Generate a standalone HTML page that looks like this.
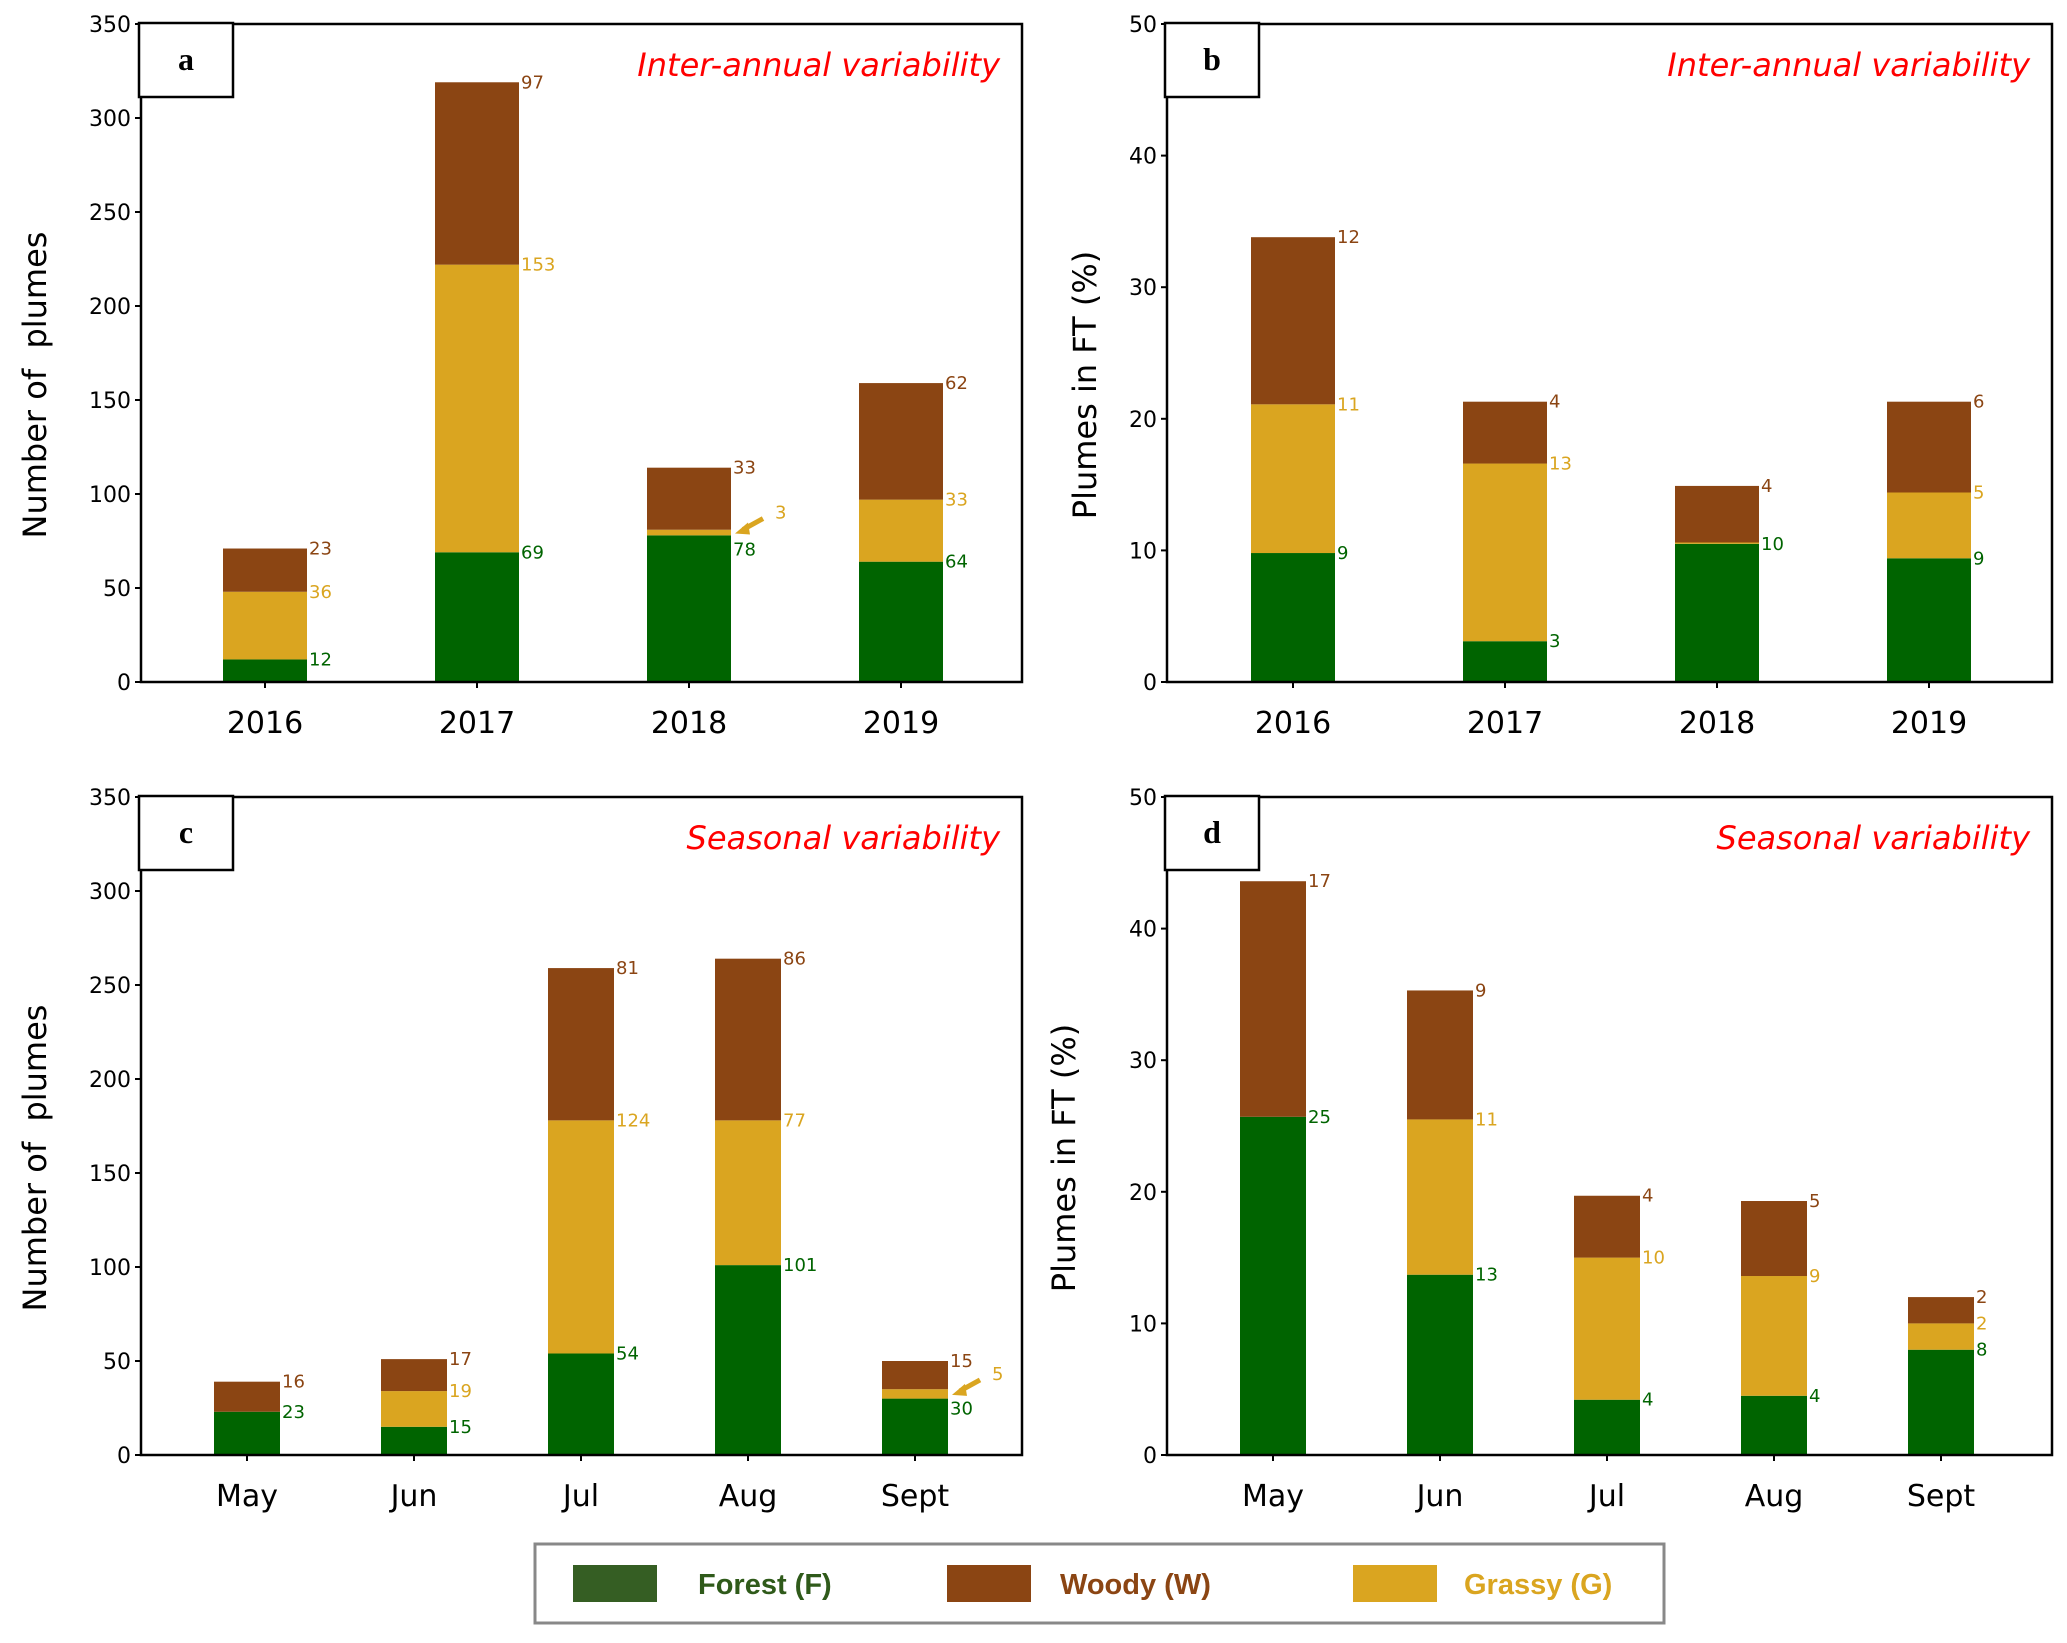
<!DOCTYPE html>
<html><head><meta charset="utf-8"><style>
body{margin:0;background:#fff;}
svg{display:block;font-family:"DejaVu Sans","Liberation Sans",sans-serif;}
</style></head><body>
<svg id="fig" width="2067" height="1643" viewBox="0 0 2067 1643" xmlns="http://www.w3.org/2000/svg"></svg>
<script>
// Panel a: number of plumes per year
const yearsA = ["2016","2017","2018","2019"];
const forestA = [12,69,78,64];
const grassyA = [36,153,3,33];
const woodyA = [23,97,33,62];
// Panel b: plumes in FT (%) per year
const yearsB = ["2016","2017","2018","2019"];
const forestB = [9.8,3.1,10.5,9.4];
const grassyB = [11.3,13.5,0.1,5.0];
const woodyB = [12.7,4.7,4.3,6.9];
// Panel c: number of plumes per month
const monthsC = ["May","Jun","Jul","Aug","Sept"];
const forestC = [23,15,54,101,30];
const grassyC = [0,19,124,77,5];
const woodyC = [16,17,81,86,15];
// Panel d: plumes in FT (%) per month
const monthsD = ["May","Jun","Jul","Aug","Sept"];
const forestD = [25.7,13.7,4.2,4.5,8.0];
const grassyD = [0,11.8,10.8,9.1,2.0];
const woodyD = [17.9,9.8,4.7,5.7,2.0];
const ticksCount = [0,50,100,150,200,250,300,350];
const ticksPct = [0,10,20,30,40,50];

const C = {F:"#006400", G:"#DAA520", W:"#8B4513"};
const svg = document.getElementById('fig');
const NS = "http://www.w3.org/2000/svg";
function mk(tag, attrs, parent){
  const e = document.createElementNS(NS, tag);
  for (const k in attrs) e.setAttribute(k, attrs[k]);
  (parent||svg).appendChild(e);
  return e;
}
function txt(str, attrs, parent){ const e = mk('text', attrs, parent); e.textContent = str; return e; }

function panel(o){
  const g = mk('g', {});
  
  
  const L=o.left,R=o.right,T=o.top,B=o.bottom;
  const y = v => B - (v - 0)/(o.max) * (B - T);
  const n = o.cats.length;
  const xc = i => o.x0 + i*o.step;
  for (let i=0;i<n;i++){
    const segs = [["forest",o.f[i],C.F],["grassy",o.g[i],C.G],["woody",o.w[i],C.W]];
    let base = 0;
    const tops = [];
    segs.forEach(s=>{
      const r = mk('rect',{x:xc(i)-o.bw/2, y:y(base+s[1]), width:o.bw, height:Math.max(0,y(base)-y(base+s[1])), fill:s[2]}, g);
      
      
      base += s[1];
      tops.push(base);
    });
    const hasArrow = o.arrow && o.arrow[i];
    segs.forEach((s,k)=>{
      if (s[1] < 1) return;
      if (hasArrow && k===1) return;
      const lab = o.pct ? Math.floor(s[1]+1e-9) : s[1];
      const lx = xc(i)+o.bw/2+2;
      let ly = y(tops[k])+6;
      if (o.nudge && o.nudge[i] && o.nudge[i][k]) ly += o.nudge[i][k];
      const t = txt(String(lab), {x:lx, y:ly, 'font-size':18, fill:s[2]}, g);
      
      
    });
    if (hasArrow){
      const gy = y(o.f[i]+o.g[i]/2);
      const ax = xc(i)+o.bw/2+4;
      const a = mk('g',{},g);
      
      
      mk('line',{x1:ax+28,y1:gy-14,x2:ax+8,y2:gy-3,stroke:C.G,'stroke-width':5},a);
      mk('polygon',{points:`${ax},${gy+1} ${ax+13},${gy-10} ${ax+15},${gy+2}`,fill:C.G},a);
      const t = txt(String(o.g[i]),{x:ax+40,y:gy-14,'font-size':18,fill:C.G},a);
      
      
    }
    mk('line',{x1:xc(i),y1:B,x2:xc(i),y2:B+6,stroke:'#000','stroke-width':2},g);
    const xl = txt(o.cats[i],{x:xc(i),y:B+51,'font-size':30,'text-anchor':'middle',fill:'#000'},g);
    
    
  }
  o.ticks.forEach(v=>{
    mk('line',{x1:L-6,y1:y(v),x2:L,y2:y(v),stroke:'#000','stroke-width':2},g);
    const t = txt(String(v),{x:L-10,y:y(v)+8,'font-size':22,'text-anchor':'end',fill:'#000'},g);
    
    
  });
  const fr = mk('rect',{x:L,y:T,width:R-L,height:B-T,fill:'none',stroke:'#000','stroke-width':2.5},g);
  
  
  const bx = mk('rect',{x:L-2,y:T-1,width:94,height:74,fill:'#fff',stroke:'#000','stroke-width':2.5},g);
  
  
  const pl = txt(o.letter,{x:L+45,y:T+46,'font-size':32,'font-weight':'bold','text-anchor':'middle','font-family':'Liberation Serif, serif',fill:'#000'},g);
  
  
  const ti = txt(o.title,{x:R-22,y:T+52,'font-size':32,'font-style':'italic','text-anchor':'end',fill:'#ff0000'},g);
  
  
  const yt = txt(o.ytitle,{x:0,y:0,'font-size':32,'text-anchor':'middle',fill:'#000',transform:`translate(${o.ytx},${(T+B)/2+32}) rotate(-90)`},g);
  
  
}

panel({name:'panel-a',letter:'a',title:'Inter-annual variability',ytitle:'Number of\u00a0\u00a0plumes',ytx:46,
  left:141,right:1022,top:24,bottom:682,max:350,ticks:ticksCount,cats:yearsA,f:forestA,g:grassyA,w:woodyA,
  x0:265,step:212,bw:84,arrow:{2:true},nudge:{2:[14,0,0]}});
panel({name:'panel-b',letter:'b',title:'Inter-annual variability',ytitle:'Plumes in FT (%)',ytx:1096,
  left:1167,right:2052,top:24,bottom:682,max:50,ticks:ticksPct,cats:yearsB,f:forestB,g:grassyB,w:woodyB,pct:true,
  x0:1293,step:212,bw:84});
panel({name:'panel-c',letter:'c',title:'Seasonal variability',ytitle:'Number of\u00a0\u00a0plumes',ytx:46,
  left:141,right:1022,top:797,bottom:1455,max:350,ticks:ticksCount,cats:monthsC,f:forestC,g:grassyC,w:woodyC,
  x0:247,step:167,bw:66,arrow:{4:true},nudge:{4:[10,0,0]}});
panel({name:'panel-d',letter:'d',title:'Seasonal variability',ytitle:'Plumes in FT (%)',ytx:1075,
  left:1167,right:2052,top:797,bottom:1455,max:50,ticks:ticksPct,cats:monthsD,f:forestD,g:grassyD,w:woodyD,pct:true,
  x0:1273,step:167,bw:66});

const lg = mk('g',{});


mk('rect',{x:535,y:1544,width:1129,height:79,fill:'#fff',stroke:'#888','stroke-width':3},lg);
const entries = [["Forest (F)","#355E23","#2f5a1a",573,698],["Woody (W)",C.W,C.W,947,1060],["Grassy (G)",C.G,C.G,1353,1464]];
entries.forEach(e=>{
  const eg = mk('g',{},lg);
  
  
  mk('rect',{x:e[3],y:1565,width:84,height:37,fill:e[1]},eg);
  txt(e[0],{x:e[4],y:1594,'font-size':29,'font-weight':'bold',fill:e[2],'font-family':'Liberation Sans, sans-serif'},eg);
});
</script>
</body></html>
